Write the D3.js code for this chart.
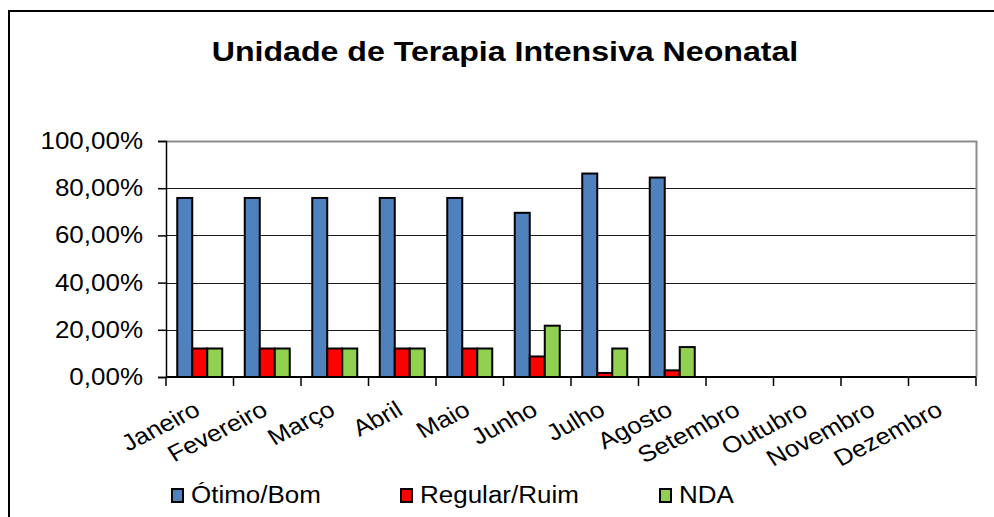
<!DOCTYPE html>
<html>
<head>
<meta charset="utf-8">
<script src="https://cdn.jsdelivr.net/npm/d3@7"></script>
<style>
  body { margin: 0; background: #fff; }
  text { font-family: "Liberation Sans", Arial, sans-serif; fill: #000; }
</style>
</head>
<body>
<script>
// dados
var meses = ["Janeiro","Fevereiro","Março","Abril","Maio","Junho","Julho","Agosto","Setembro","Outubro","Novembro","Dezembro"];
var series = ["Ótimo/Bom","Regular/Ruim","NDA"];
var otimoBom   = [75.86, 75.86, 75.86, 75.86, 75.86, 69.57, 86.21, 84.51, null, null, null, null];
var regularRuim = [12.07, 12.07, 12.07, 12.07, 12.07, 8.70, 1.72, 2.82, null, null, null, null];
var nda        = [12.07, 12.07, 12.07, 12.07, 12.07, 21.74, 12.07, 12.68, null, null, null, null];
var yTicks = [0, 20, 40, 60, 80, 100];
var cores = ["#4F81BD", "#FF0000", "#92D050"];

var W = 994, H = 517;
var sx = 1.13; // o original está esticado na horizontal
var pLeft = 166, pRight = 976, pTop = 141, pBottom = 377;

var svg = d3.select("body").append("svg")
  .attr("width", W)
  .attr("height", H);

// moldura do gráfico
svg.append("rect")
  .attr("x", 9).attr("y", 11)
  .attr("width", W).attr("height", H)
  .attr("fill", "#fff")
  .attr("stroke", "#000")
  .attr("stroke-width", 2);

function texto(g, x, y, str, size, anchor, extra, esc) {
  var t = g.append("g")
    .attr("transform", "translate(" + x + "," + y + ") scale(" + (esc || sx) + ",1)" + (extra || ""))
    .append("text")
    .attr("text-anchor", anchor)
    .style("font-size", size + "px")
    .text(str);
  return t;
}

// titulo
texto(svg, 505, 61, "Unidade de Terapia Intensiva Neonatal", 27, "middle", "", 1.19)
  .style("font-weight", "bold");

var x0 = d3.scaleBand().domain(meses).range([pLeft, pRight])
  .paddingInner(1/3).paddingOuter(1/6);
var x1 = d3.scaleBand().domain(series).range([0, x0.bandwidth()]);
var y = d3.scaleLinear().domain([0, 100]).range([pBottom, pTop]);

// grade
svg.append("g").selectAll("line")
  .data(yTicks.filter(d => d > 0 && d < 100))
  .enter().append("line")
  .attr("x1", pLeft).attr("x2", pRight)
  .attr("y1", d => Math.round(y(d)) + 0.5).attr("y2", d => Math.round(y(d)) + 0.5)
  .attr("stroke", "#1a1a1a").attr("stroke-width", 1);

// borda da area de plotagem (topo e direita)
svg.append("path")
  .attr("d", "M" + pLeft + "," + (pTop + 0.5) + "H" + (pRight + 0.5) + "V" + pBottom)
  .attr("fill", "none").attr("stroke", "#8c8c8c").attr("stroke-width", 2);

// barras
var valores = [otimoBom, regularRuim, nda];
var dados = [];
meses.forEach(function(m, i) {
  series.forEach(function(s, j) {
    if (valores[j][i] != null) dados.push({mes: m, serie: s, v: valores[j][i], c: cores[j]});
  });
});

svg.append("g").selectAll("rect")
  .data(dados)
  .enter().append("rect")
  .attr("x", d => x0(d.mes) + x1(d.serie))
  .attr("y", d => y(d.v))
  .attr("width", x1.bandwidth())
  .attr("height", d => y(0) - y(d.v))
  .attr("fill", d => d.c)
  .attr("stroke", "#000")
  .attr("stroke-width", 2);

// eixo y
var yAxis = d3.axisLeft(y).tickValues(yTicks).tickSize(8).tickFormat("");
var gy = svg.append("g").attr("transform", "translate(" + pLeft + ",0)").call(yAxis);
gy.selectAll("line").attr("stroke", "#000").attr("stroke-width", 1.5);
gy.select(".domain").attr("stroke", "#000").attr("stroke-width", 1.5);

yTicks.forEach(function(t) {
  texto(svg, 143, y(t) + 8, d3.format(".2f")(t).replace(".", ",") + "%", 23, "end");
});

// eixo x: marcas nas divisas das categorias
var divisas = d3.range(meses.length + 1).map(i => pLeft + i * x0.step());
svg.append("line")
  .attr("x1", pLeft).attr("x2", pRight)
  .attr("y1", pBottom).attr("y2", pBottom)
  .attr("stroke", "#000").attr("stroke-width", 2);
svg.append("g").selectAll("line")
  .data(divisas)
  .enter().append("line")
  .attr("x1", d => d).attr("x2", d => d)
  .attr("y1", pBottom).attr("y2", pBottom + 9)
  .attr("stroke", "#000").attr("stroke-width", 1.5);

meses.forEach(function(m) {
  texto(svg, x0(m) + x0.bandwidth() / 2 + 2, 414, m, 23, "end", " rotate(-30)");
});

// legenda
var legX = [172, 401, 660];
series.forEach(function(s, j) {
  svg.append("rect")
    .attr("x", legX[j]).attr("y", 489)
    .attr("width", 11).attr("height", 13)
    .attr("fill", cores[j])
    .attr("stroke", "#000").attr("stroke-width", 2);
  texto(svg, legX[j] + 19, 503, s, 23, "start");
});
</script>
</body>
</html>
